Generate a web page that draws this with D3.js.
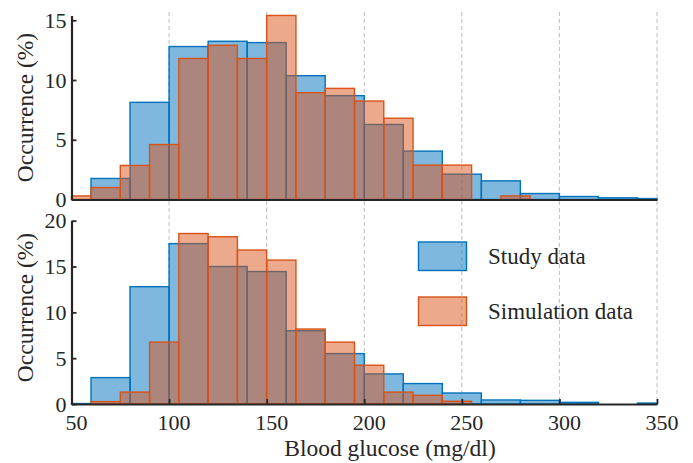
<!DOCTYPE html>
<html><head><meta charset="utf-8">
<script src="https://cdn.jsdelivr.net/npm/d3@7"></script>
<style>
body{margin:0;background:#fff}
svg{display:block}
</style>
</head><body>
<svg id="chart" width="693" height="463"></svg>
<script>
// ---- data (percent occurrence per bin) ----
const studyBinWidth = 20;
const simBinWidth = 15;

const topStudyStarts = [60,80,100,120,140,160,180,200,220,240,260,280,300,320,340];
const topStudyValues = [1.76,8.13,12.8,13.24,13.13,10.36,8.69,6.28,4.05,2.12,1.56,0.5,0.25,0.14,0.08];

const topSimStarts = [45,60,75,90,105,120,135,150,165,180,195,210,225,240,255,270];
const topSimValues = [0.3,1.0,2.85,4.6,11.8,12.9,11.8,15.4,8.94,9.3,8.24,6.8,2.88,2.88,0,0.3];

const botStudyStarts = [40,60,80,100,120,140,160,180,200,220,240,260,280,300,320,340];
const botStudyValues = [0.05,2.88,12.8,17.5,15.0,14.45,8.0,5.5,3.28,2.23,1.2,0.44,0.4,0.18,0,0.1];

const botSimStarts = [60,75,90,105,120,135,150,165,180,195,210,225,240];
const botSimValues = [0.26,1.3,6.75,18.6,18.25,16.8,15.7,8.18,6.75,4.23,1.3,0.95,0.3];

const xTicks = [50,100,150,200,250,300,350];
const gridTicks = [100,150,200,250,300,350];
const topYTicks = [0,5,10,15];
const botYTicks = [0,5,10,15,20];
const seriesNames = ["Study data","Simulation data"];
const xLabel = "Blood glucose (mg/dl)";
const yLabel = "Occurrence (%)";

// ---- styles ----
const blue = "#0072BD", orange = "#D95319";
const axisColor = "#262626";
const FONT = "'Liberation Serif', 'Times New Roman', Times, 'DejaVu Serif', serif";

const svg = d3.select("#chart");

const x = d3.scaleLinear().domain([50,350]).range([71.5,657]).clamp(true);
const yTop = d3.scaleLinear().domain([0,15.4]).range([199.5, 199.5-15.4*11.95]);
const yBot = d3.scaleLinear().domain([0,20]).range([404, 220.7]);

// gridlines
svg.append("g").selectAll("line").data(gridTicks).join("line")
  .attr("x1", d=>x(d)).attr("x2", d=>x(d))
  .attr("y1", 12).attr("y2", 404)
  .attr("stroke", "#bdbdbd").attr("stroke-width", 1)
  .attr("stroke-dasharray", "4,3");

function drawBars(g, starts, values, w, y, color){
  const data = starts.map((s,i)=>({s, v: values[i]})).filter(d=>d.v>0);
  g.append("g").selectAll("rect").data(data).join("rect")
    .attr("x", d=>x(d.s))
    .attr("width", d=>x(d.s+w)-x(d.s))
    .attr("y", d=>y(d.v))
    .attr("height", d=>y(0)-y(d.v))
    .attr("fill", color).attr("fill-opacity", 0.5)
    .attr("stroke", color).attr("stroke-width", 1.4);
}

const gTop = svg.append("g");
drawBars(gTop, topStudyStarts, topStudyValues, studyBinWidth, yTop, blue);
drawBars(gTop, topSimStarts, topSimValues, simBinWidth, yTop, orange);

const gBot = svg.append("g");
drawBars(gBot, botStudyStarts, botStudyValues, studyBinWidth, yBot, blue);
drawBars(gBot, botSimStarts, botSimValues, simBinWidth, yBot, orange);

function styleAxis(g, fs){
  g.attr("font-family", FONT);
  g.select(".domain").attr("stroke", axisColor).attr("stroke-width", 2.2);
  g.selectAll(".tick line").attr("stroke", axisColor).attr("stroke-width", 1.8);
  g.selectAll(".tick text").style("font-family", FONT).style("font-size", fs+"px").attr("fill", axisColor);
}

// top panel axes
const topYAxis = svg.append("g").attr("transform","translate(71.5,0)")
  .call(d3.axisLeft(yTop).tickValues(topYTicks).tickSizeInner(-5).tickSizeOuter(0).tickPadding(5));
styleAxis(topYAxis, 22);
const topXAxis = svg.append("g").attr("transform",`translate(0,${yTop(0)})`)
  .call(d3.axisBottom(x).tickValues([]).tickSizeOuter(0));
styleAxis(topXAxis, 22);

// bottom panel axes
const botYAxis = svg.append("g").attr("transform","translate(71.5,0)")
  .call(d3.axisLeft(yBot).tickValues(botYTicks).tickSizeInner(-5).tickSizeOuter(0).tickPadding(5));
styleAxis(botYAxis, 22);
const botXAxis = svg.append("g").attr("transform",`translate(0,${yBot(0)})`)
  .call(d3.axisBottom(x).tickValues(xTicks).tickSizeInner(-5).tickSizeOuter(0).tickPadding(10));
styleAxis(botXAxis, 22);
botXAxis.selectAll(".tick text").attr("dx", 4.5);

function label(sel){
  return sel.style("font-family", FONT).attr("fill", axisColor);
}

// axis labels
label(svg.append("text")).attr("transform","translate(33,107.5) rotate(-90)")
  .attr("text-anchor","middle").style("font-size","23.5px").text(yLabel);
label(svg.append("text")).attr("transform","translate(33,307.5) rotate(-90)")
  .attr("text-anchor","middle").style("font-size","23.5px").text(yLabel);
label(svg.append("text")).attr("x", 390).attr("y", 456)
  .attr("text-anchor","middle").style("font-size","23.5px").text(xLabel);

// legend
const legend = svg.append("g");
const legColors = [blue, orange];
const legY = [242, 297];
seriesNames.forEach((name,i)=>{
  legend.append("rect").attr("x",418.5).attr("y",legY[i]).attr("width",48).attr("height",28.5)
    .attr("fill",legColors[i]).attr("fill-opacity",0.5)
    .attr("stroke",legColors[i]).attr("stroke-width",1.4);
  label(legend.append("text")).attr("x",488).attr("y",legY[i]+22)
    .style("font-size","23px").text(name);
});
</script>
</body></html>
